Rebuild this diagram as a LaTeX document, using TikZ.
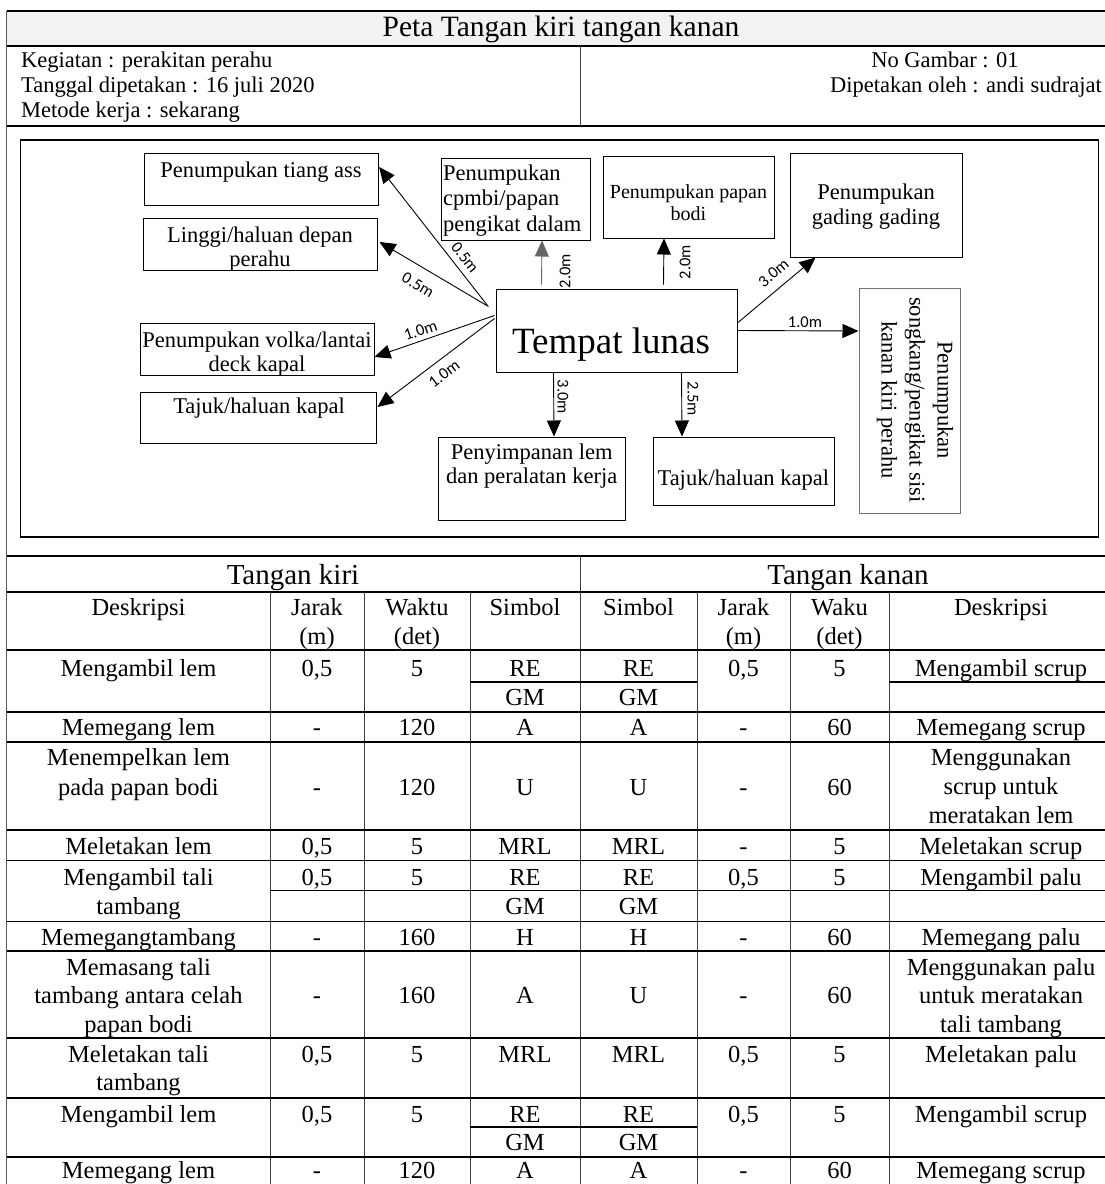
\documentclass[tikz,border=0pt]{standalone}
\usepackage{fontspec}
\setmainfont{Liberation Serif}
\newfontfamily\lblfont{Carlito}
\usetikzlibrary{arrows.meta,calc}
\begin{document}
\begin{tikzpicture}[x=1pt,y=-1pt,
  frameln/.style={line width=1.8pt},
  thickln/.style={line width=1.6pt},
  thinln/.style={line width=1pt},
  vln/.style={line width=0.9pt, black!75},
  box/.style={draw, line width=1pt, inner sep=0pt},
  dtext/.style={inner sep=0pt, anchor=base, align=center, font=\fontsize{22.5}{24.5}\selectfont},
  lbl/.style={inner sep=0.6pt, font=\lblfont\fontsize{16.5}{18}\selectfont},
  arr/.style={line width=0.9pt, -{Triangle[length=16pt,width=14pt]}},
  tc/.style={inner sep=0pt, anchor=base, align=center, font=\fontsize{24.5}{29}\selectfont},
  hd/.style={inner sep=0pt, anchor=base, font=\fontsize{29}{33}\selectfont},
  info/.style={inner sep=0pt, font=\fontsize{22.5}{25}\selectfont},
]
\useasboundingbox (0,0) rectangle (1105,1184);

% ---------- header frame ----------
\fill[black!5] (6.5,11) rectangle (1105,46);
\draw[frameln] (6.5,11) -- (1105,11);
\draw[frameln] (6.5,46) -- (1105,46);
\draw[frameln] (6.5,126) -- (1105,126);
\draw[frameln] (6.5,556) -- (1105,556);
\draw[line width=1.3pt, black!65] (6.5,11) -- (6.5,1184);
\draw[vln] (580,46) -- (580,126);

\node[inner sep=0pt, anchor=base, font=\fontsize{29.5}{33}\selectfont] (title) at (561,36) {Peta Tangan kiri tangan kanan};
\node[info, anchor=base west] (keg) at (21,67) {Kegiatan : perakitan perahu};
\node[info, anchor=base west] (tgl) at (21,92) {Tanggal dipetakan : 16 juli 2020};
\node[info, anchor=base west] (met) at (21,117) {Metode kerja : sekarang};
\node[info, anchor=base] (nog) at (945,67) {No Gambar : 01};
\node[info, anchor=base east] (dip) at (1102,92) {Dipetakan oleh : andi sudrajat};

% ---------- diagram ----------
\draw[line width=1.6pt] (20.5,140) rectangle (1098.5,537);

\node[box, minimum width=234pt, minimum height=52pt] (tiang) at (261.6,179) {};
\node[dtext] (tiangT) at (261,177) {Penumpukan tiang ass};
\node[box, minimum width=234.5pt, minimum height=52pt] (linggi) at (260.25,244) {};
\node[dtext, font=\fontsize{22.5}{24}\selectfont] (linggiT) at (260,266) {Linggi/haluan depan\\perahu};
\node[box, minimum width=234pt, minimum height=52pt] (volka) at (257,349) {};
\node[dtext, font=\fontsize{22.5}{24}\selectfont] (volkaT) at (257,371) {Penumpukan volka/lantai\\deck kapal};
\node[box, minimum width=236pt, minimum height=51pt] (tajl) at (258,417.5) {};
\node[dtext] (tajlT) at (259,413) {Tajuk/haluan kapal};
\node[box, minimum width=149pt, minimum height=82pt] (cpmbi) at (515.5,199) {};
\node[dtext, anchor=base west, align=left, font=\fontsize{22.5}{25.8}\selectfont] (cpmbiT) at (443,231.6) {Penumpukan\\cpmbi/papan\\pengikat dalam};
\node[box, minimum width=171pt, minimum height=82pt] (papan) at (688.5,197) {};
\node[dtext, font=\fontsize{20}{22.4}\selectfont] (papanT) at (688.5,220.7) {Penumpukan papan\\bodi};
\node[box, minimum width=172pt, minimum height=104pt] (gading) at (876,205) {};
\node[dtext, font=\fontsize{22.5}{25}\selectfont] (gadingT) at (876,224.3) {Penumpukan\\gading gading};
\node[box, minimum width=241.5pt, minimum height=83pt] (tl) at (616.75,330.5) {};
\node[inner sep=0pt, anchor=base, font=\fontsize{37}{40}\selectfont] (tlT) at (611,353) {Tempat lunas};
\node[box, draw=black!55, minimum width=101.5pt, minimum height=225pt] (song) at (909.75,400.5) {};
\node[inner sep=0pt, align=center, rotate=-90, font=\fontsize{22.5}{28}\selectfont] (songT) at (915,400) {Penumpukan\\songkang/pengikat sisi\\kanan kiri perahu};
\node[box, minimum width=187pt, minimum height=83pt] (peny) at (531.5,478.5) {};
\node[dtext] (penyT) at (531.7,483.8) {Penyimpanan lem\\dan peralatan kerja};
\node[box, minimum width=181pt, minimum height=68pt] (tajr) at (743.5,471) {};
\node[dtext] (tajrT) at (743.3,485) {Tajuk/haluan kapal};

% connectors
\draw[arr] ($(tl.north west)+(-8,17)$) -- ($(tiang.east)+(0,-12)$);
\draw[arr] ($(tl.north west)+(-7,18)$) -- ($(linggi.east)+(1.5,-2)$);
\draw[arr] ($(tl.north west)+(-1,27)$) -- ($(volka.east)+(0,8)$);
\draw[arr] ($(tl.north west)+(-1,30)$) -- ($(tajl.east)+(1,-10.5)$);
\draw[arr, draw=black!60, fill=black] ($(tl.north west)+(46,-4)$) -- ($(cpmbi.south)+(26.5,0)$);
\draw[arr] ($(tl.north west)+(168,-4)$) -- ($(papan.south)+(-24.5,0)$);
\draw[arr] ($(tl.north east)+(0,34)$) -- ($(gading.south west)+(26,0)$);
\draw[arr] (tl.east) -- ($(song.west)+(0,-69.5)$);
\draw[arr] ($(tl.south west)+(58,0)$) -- ($(peny.north)+(22.5,0)$);
\draw[arr] ($(tl.south west)+(186,0)$) -- ($(tajr.north)+(-61.5,0)$);

% distance labels
\node[lbl, rotate=-52] (l1) at (465,257.5) {0.5m};
\node[lbl, rotate=-30.6] (l2) at (418,285) {0.5m};
\node[lbl, rotate=18.4] (l3) at (420.5,330.5) {1.0m};
\node[lbl, rotate=37] (l4) at (444,374) {1.0m};
\node[lbl, rotate=90, fill=white] (l5) at (565,271) {2.0m};
\node[lbl, rotate=90] (l6) at (685,262) {2.0m};
\node[lbl, rotate=40] (l7) at (773.5,273) {3.0m};
\node[lbl] (l8) at (805,322) {1.0m};
\node[lbl, rotate=-90] (l9) at (563,397) {3.0m};
\node[lbl, rotate=-90] (l10) at (693,399) {2.5m};

% ---------- table ----------
\draw[vln] (580,556) -- (580,592);
\draw[thickln] (6.5,592) -- (1105,592);
\foreach \xx in {270,364,470,580,697,790,889}
  \draw[vln] (\xx,592) -- (\xx,1184);
\foreach \yy in {650,712,742,830,951,1038,1098,1157}
  \draw[thickln] (6.5,\yy) -- (1105,\yy);
\foreach \yy in {860,921}
  \draw[thinln] (6.5,\yy) -- (1105,\yy);
\draw[thickln] (470,682) -- (697,682);
\draw[thickln] (889,682) -- (1105,682);
\draw[thinln] (270,890) -- (1105,890);
\draw[thickln] (470,1127) -- (697,1127);

\node[hd] (tki) at (293,584) {Tangan kiri};
\node[hd] (tka) at (848,584) {Tangan kanan};

% header row
\node[tc] (h1) at (138.5,615) {Deskripsi};
\node[tc] (h2) at (317,644) {Jarak\\(m)};
\node[tc] (h3) at (417,644) {Waktu\\(det)};
\node[tc] (h4) at (525,615) {Simbol};
\node[tc] (h5) at (638.5,615) {Simbol};
\node[tc] (h6) at (743.5,644) {Jarak\\(m)};
\node[tc] (h7) at (839.5,644) {Waku\\(det)};
\node[tc] (h8) at (1001,615) {Deskripsi};

% row 1
\node[tc] (a1) at (138.5,676) {Mengambil lem};
\node[tc] (a2) at (317,676) {0,5};
\node[tc] (a3) at (417,676) {5};
\node[tc] (a4) at (525,676) {RE};
\node[tc] (a4b) at (525,705) {GM};
\node[tc] (a5) at (638.5,676) {RE};
\node[tc] (a5b) at (638.5,705) {GM};
\node[tc] (a6) at (743.5,676) {0,5};
\node[tc] (a7) at (839.5,676) {5};
\node[tc] (a8) at (1001,676) {Mengambil scrup};
% row 2
\node[tc] (b1) at (138.5,735) {Memegang lem};
\node[tc] (b2) at (317,735) {-};
\node[tc] (b3) at (417,735) {120};
\node[tc] (b4) at (525,735) {A};
\node[tc] (b5) at (638.5,735) {A};
\node[tc] (b6) at (743.5,735) {-};
\node[tc] (b7) at (839.5,735) {60};
\node[tc] (b8) at (1001,735) {Memegang scrup};
% row 3
\node[tc, font=\fontsize{24.5}{30}\selectfont] (c1) at (138.5,795) {Menempelkan lem\\pada papan bodi};
\node[tc] (c2) at (317,795) {-};
\node[tc] (c3) at (417,795) {120};
\node[tc] (c4) at (525,795) {U};
\node[tc] (c5) at (638.5,795) {U};
\node[tc] (c6) at (743.5,795) {-};
\node[tc] (c7) at (839.5,795) {60};
\node[tc] (c8) at (1001,823.5) {Menggunakan\\scrup untuk\\meratakan lem};
% row 4
\node[tc] (d1) at (138.5,854) {Meletakan lem};
\node[tc] (d2) at (317,854) {0,5};
\node[tc] (d3) at (417,854) {5};
\node[tc] (d4) at (525,854) {MRL};
\node[tc] (d5) at (638.5,854) {MRL};
\node[tc] (d6) at (743.5,854) {-};
\node[tc] (d7) at (839.5,854) {5};
\node[tc] (d8) at (1001,854) {Meletakan scrup};
% row 5
\node[tc] (e1) at (138.5,914) {Mengambil tali\\tambang};
\node[tc] (e2) at (317,885) {0,5};
\node[tc] (e3) at (417,885) {5};
\node[tc] (e4) at (525,885) {RE};
\node[tc] (e4b) at (525,914) {GM};
\node[tc] (e5) at (638.5,885) {RE};
\node[tc] (e5b) at (638.5,914) {GM};
\node[tc] (e6) at (743.5,885) {0,5};
\node[tc] (e7) at (839.5,885) {5};
\node[tc] (e8) at (1001,885) {Mengambil palu};
% row 6
\node[tc] (f1) at (138.5,945) {Memegangtambang};
\node[tc] (f2) at (317,945) {-};
\node[tc] (f3) at (417,945) {160};
\node[tc] (f4) at (525,945) {H};
\node[tc] (f5) at (638.5,945) {H};
\node[tc] (f6) at (743.5,945) {-};
\node[tc] (f7) at (839.5,945) {60};
\node[tc] (f8) at (1001,945) {Memegang palu};
% row 7
\node[tc, font=\fontsize{24.5}{28.5}\selectfont] (g1) at (138.5,1032) {Memasang tali\\tambang antara celah\\papan bodi};
\node[tc] (g2) at (317,1003.5) {-};
\node[tc] (g3) at (417,1003.5) {160};
\node[tc] (g4) at (525,1003.5) {A};
\node[tc] (g5) at (638.5,1003.5) {U};
\node[tc] (g6) at (743.5,1003.5) {-};
\node[tc] (g7) at (839.5,1003.5) {60};
\node[tc, font=\fontsize{24.5}{28.5}\selectfont] (g8) at (1001,1032) {Menggunakan palu\\untuk meratakan\\tali tambang};
% row 8
\node[tc, font=\fontsize{24.5}{28}\selectfont] (k1) at (138.5,1090) {Meletakan tali\\tambang};
\node[tc] (k2) at (317,1062) {0,5};
\node[tc] (k3) at (417,1062) {5};
\node[tc] (k4) at (525,1062) {MRL};
\node[tc] (k5) at (638.5,1062) {MRL};
\node[tc] (k6) at (743.5,1062) {0,5};
\node[tc] (k7) at (839.5,1062) {5};
\node[tc] (k8) at (1001,1062) {Meletakan palu};
% row 9
\node[tc] (m1) at (138.5,1122) {Mengambil lem};
\node[tc] (m2) at (317,1122) {0,5};
\node[tc] (m3) at (417,1122) {5};
\node[tc] (m4) at (525,1122) {RE};
\node[tc] (m4b) at (525,1150) {GM};
\node[tc] (m5) at (638.5,1122) {RE};
\node[tc] (m5b) at (638.5,1150) {GM};
\node[tc] (m6) at (743.5,1122) {0,5};
\node[tc] (m7) at (839.5,1122) {5};
\node[tc] (m8) at (1001,1122) {Mengambil scrup};
% row 10
\node[tc] (n1) at (138.5,1178) {Memegang lem};
\node[tc] (n2) at (317,1178) {-};
\node[tc] (n3) at (417,1178) {120};
\node[tc] (n4) at (525,1178) {A};
\node[tc] (n5) at (638.5,1178) {A};
\node[tc] (n6) at (743.5,1178) {-};
\node[tc] (n7) at (839.5,1178) {60};
\node[tc] (n8) at (1001,1178) {Memegang scrup};
\end{tikzpicture}
\end{document}
